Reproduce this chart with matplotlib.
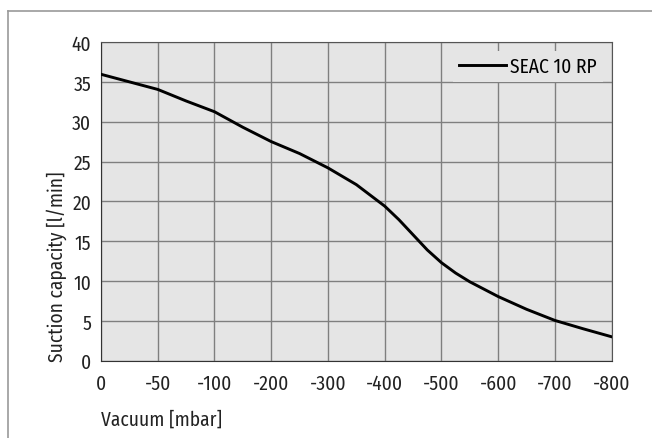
import matplotlib
matplotlib.use('Agg')
import matplotlib.pyplot as plt
from matplotlib.lines import Line2D

plt.rcParams['font.family'] = ['Fira Sans Condensed', 'PT Sans Narrow', 'Roboto Condensed',
                               'Archivo Narrow', 'Open Sans', 'DejaVu Sans']

# x-axis categories (equally spaced, not linear in mbar)
vac_labels = ['0', '-50', '-100', '-200', '-300', '-400', '-500', '-600', '-700', '-800']

# curve: position on category axis, suction capacity [l/min]
pos = [0, 0.5, 1, 1.5, 2, 2.5, 3, 3.5, 4, 4.5, 5, 5.25, 5.5, 5.75, 6, 6.25, 6.5,
       7, 7.5, 8, 8.5, 9]
flow = [35.95, 35.0, 34.05, 32.6, 31.25, 29.3, 27.5, 26.0, 24.2, 22.1, 19.4, 17.7,
        15.8, 13.9, 12.3, 11.0, 9.9, 8.05, 6.45, 5.05, 4.0, 3.0]
series_name = 'SEAC 10 RP'

fig = plt.figure(figsize=(6.52, 4.39), dpi=100)
ax = fig.add_axes([0.1549, 0.1761, 0.7833, 0.7259])

# outer frame (only top and left visible)
fig.add_artist(Line2D([8 / 652, 1], [1 - 12 / 439] * 2, color='#9a9a9a', lw=1.2))
fig.add_artist(Line2D([8 / 652] * 2, [0, 1 - 12 / 439], color='#9a9a9a', lw=1.2))

ax.set_facecolor('#e5e5e5')
ax.plot(pos, flow, color='black', lw=2.1, label=series_name, zorder=3,
        solid_joinstyle='round')

ax.set_xlim(0, 9)
ax.set_ylim(0, 40)
ax.set_xticks(range(len(vac_labels)))
ax.set_xticklabels(vac_labels)
ax.set_yticks(range(0, 41, 5))
ax.grid(True, color='#7f7f7f', lw=1.0)
ax.set_axisbelow(True)
ax.tick_params(length=0, labelsize=14, colors='#222222')
ax.tick_params(axis='y', pad=7)
ax.tick_params(axis='x', pad=9)

for s in ['top', 'right']:
    ax.spines[s].set_color('#555555')
for s in ['left', 'bottom']:
    ax.spines[s].set_color('#333333')

ax.set_xlabel('Vacuum [mbar]', fontsize=14, color='#222222', loc='left', labelpad=12)
ax.set_ylabel('Suction capacity [l/min]', fontsize=14, color='#222222', loc='bottom', labelpad=3)

leg = ax.legend(loc='upper right', fontsize=14, handlelength=2.4, handletextpad=0.25,
                borderaxespad=0.45, borderpad=0.3, fancybox=False)
leg.get_frame().set_facecolor('#e5e5e5')
leg.get_frame().set_edgecolor('none')
leg.get_frame().set_alpha(1)

fig.savefig('out.png', dpi=100)
